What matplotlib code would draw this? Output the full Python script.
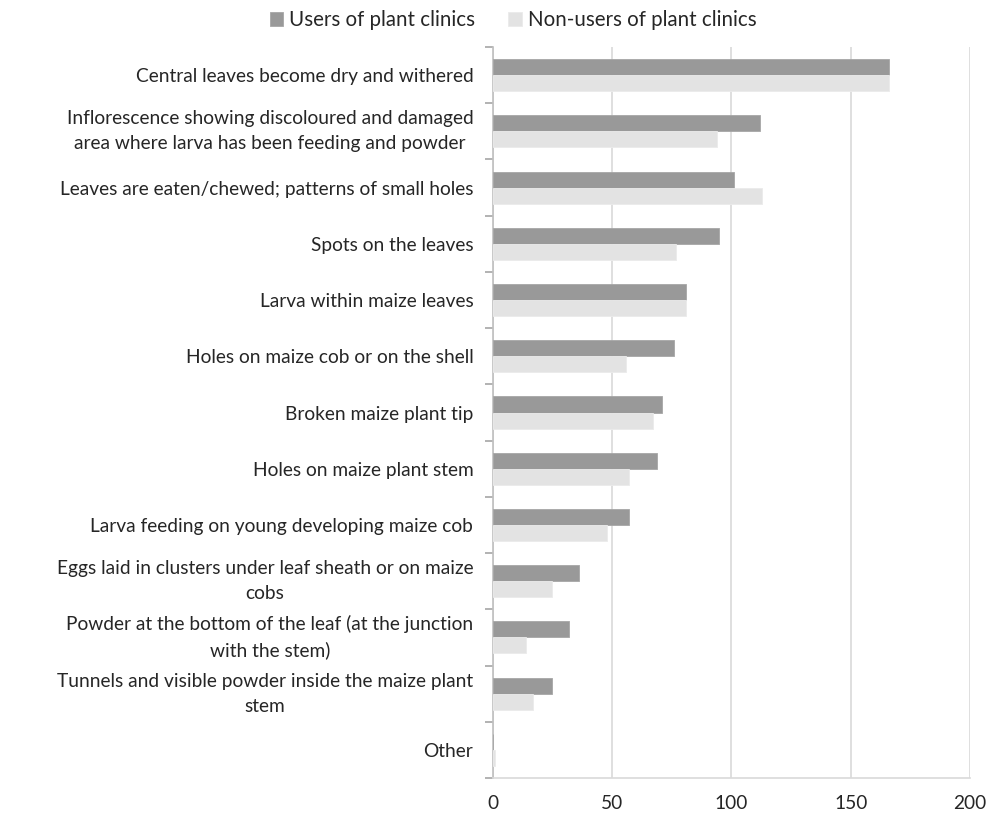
import numpy as np
import matplotlib.pyplot as plt

plt.rcParams['font.family'] = ['Lato', 'DejaVu Sans']

categories = [
    "Central leaves become dry and withered",
    "Inflorescence showing discoloured and damaged\narea where larva has been feeding and powder",
    "Leaves are eaten/chewed; patterns of small holes",
    "Spots on the leaves",
    "Larva within maize leaves",
    "Holes on maize cob or on the shell",
    "Broken maize plant tip",
    "Holes on maize plant stem",
    "Larva feeding on young developing maize cob",
    "Eggs laid in clusters under leaf sheath or on maize\ncobs",
    "Powder at the bottom of the leaf (at the junction\nwith the stem)",
    "Tunnels and visible powder inside the maize plant\nstem",
    "Other",
]
users = [166, 112, 101, 95, 81, 76, 71, 69, 57, 36, 32, 25, 0]
non_users = [166, 94, 113, 77, 81, 56, 67, 57, 48, 25, 14, 17, 1]

fig = plt.figure(figsize=(10.02, 8.16), dpi=100)
ax = fig.add_axes([492.7 / 1002, 1 - 778 / 816, (970 - 492.7) / 1002, (778 - 47) / 816])

y = np.arange(len(categories))
h = 0.285
ax.barh(y - h / 2, users, height=h, color='#999999', edgecolor='#a6a6a6', linewidth=0.6,
        label='Users of plant clinics', zorder=3)
ax.barh(y + h / 2, non_users, height=h, color='#e3e3e3', edgecolor='#ebebeb', linewidth=0.6,
        label='Non-users of plant clinics', zorder=3)

ax.set_xlim(0, 200)
ax.set_ylim(len(categories) - 0.5, -0.5)
ax.set_xticks([0, 50, 100, 150, 200])
ax.xaxis.grid(True, color='#d9d9d9', linewidth=1.2, zorder=0)
ax.set_yticks(y)
ax.set_yticklabels(categories, multialignment='center', fontsize=13.8, color='#262626',
                   linespacing=1.55)
for lab in ax.get_yticklabels():
    if '\n' in lab.get_text():
        lab.set_va('center')
ax.set_yticks(np.arange(len(categories) + 1) - 0.5, minor=True)
ax.tick_params(axis='y', which='major', length=0, pad=14)
ax.tick_params(axis='y', which='minor', length=6, color='#a6a6a6', width=1.2)
ax.tick_params(axis='x', length=0, labelsize=13.8, labelcolor='#262626', pad=12)

for s in ['top', 'right']:
    ax.spines[s].set_visible(False)
ax.spines['left'].set_color('#bfbfbf')
ax.spines['left'].set_linewidth(1.2)
ax.spines['bottom'].set_color('#d9d9d9')
ax.spines['bottom'].set_linewidth(1.2)

fig.legend(loc='upper center', bbox_to_anchor=(0.512, 1.01), ncol=2, frameon=False,
           fontsize=14.8, handlelength=0.65, handleheight=0.65, handletextpad=0.3,
           columnspacing=1.6, labelcolor='#262626')

fig.savefig('out.png', dpi=100)
